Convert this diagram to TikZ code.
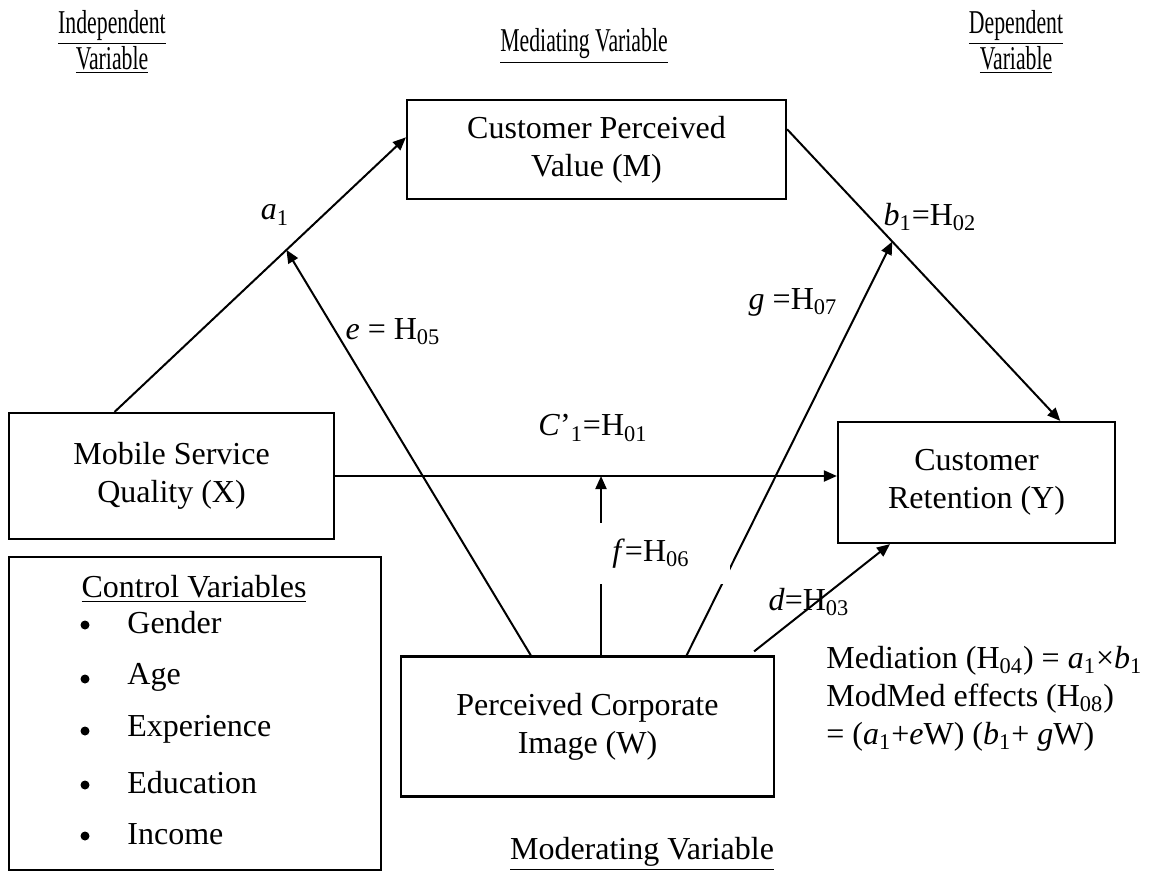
\documentclass[tikz,border=0pt]{standalone}
\usepackage{fontspec}
\usepackage{graphicx}
\setmainfont{Liberation Serif}
\usetikzlibrary{positioning, arrows.meta, calc}

\newcommand{\narrowtitle}[1]{\scalebox{0.68}[1.04]{\underline{#1}}}

\begin{document}
\begin{tikzpicture}[x=0.5pt, y=-0.5pt, >={Triangle[length=6.5pt,width=5.5pt]},
  font=\fontsize{16}{19}\selectfont,
  box/.style={draw, line width=1.1pt, align=center, inner sep=0pt},
  conn/.style={->, line width=1pt},
  lbl/.style={inner sep=1pt}]

\useasboundingbox (0,0) rectangle (1149,872);

% --- Column titles ---
\node[align=center] (tIV) at (112,42) {\narrowtitle{Independent}\\[-1pt]\narrowtitle{Variable}};
\node (tMV) at (584,46) {\narrowtitle{Mediating Variable}};
\node[align=center] (tDV) at (1016,42) {\narrowtitle{Dependent}\\[-1pt]\narrowtitle{Variable}};
\node (tWV) at (642,854) {\underline{Moderating Variable}};

% --- Boxes ---
\node[box, minimum width=189.5pt, minimum height=49.5pt] (M) at (596.5,149.5)
  {Customer Perceived\\Value (M)};
\node[box, minimum width=162.5pt, minimum height=63pt] (X) at (171.5,476)
  {Mobile Service\\Quality (X)};
\node[box, minimum width=138.5pt, minimum height=60.5pt] (Y) at (976.5,482.5)
  {Customer\\Retention (Y)};
\node[box, minimum width=186.5pt, minimum height=70pt] (W) at (587.5,726.5)
  {Perceived Corporate\\Image (W)};

% --- Control variables ---
\node[box, minimum width=186pt, minimum height=156.5pt] (ctrl) at (195,713.5) {};
\node (ctrlT) at (194,589) {\underline{Control Variables}};
\foreach \y/\ctl [count=\k] in {623/Gender, 677/Age, 729/Experience, 783/Education, 834/Income} {
  \node[circle, fill, inner sep=0pt, minimum size=4.5pt] (dot\k) at (85,\y+2) {};
  \node[anchor=west, inner sep=0pt] (ctl\k) at (127,\y) {\ctl};
}

% --- Anchor points on the box borders ---
\coordinate (xa) at ($(X.north west)!0.326!(X.north east)$);
\coordinate (ma) at ($(M.north west)!0.38!(M.south west)$);
\coordinate (mb) at ($(M.north east)!0.30!(M.south east)$);
\coordinate (yb) at ($(Y.north west)!0.80!(Y.north east)$);
\coordinate (we) at ($(W.north west)!0.349!(W.north east)$);
\coordinate (wf) at ($(W.north west)!0.536!(W.north east)$);
\coordinate (wg) at ($(W.north west)!0.764!(W.north east)$);
\coordinate (wd) at ($(W.north west)!0.944!(W.north east)$);
\coordinate (yd) at ($(Y.south west)!0.19!(Y.south east)$);

% --- Labels under the lines ---
\node[lbl] (la) at (275,215) {\textit{a}\textsubscript{1}};
\node[lbl] (le) at (393,332) {\textit{e} = H\textsubscript{05}};
\node[lbl] (lg) at (793,302) {\textit{g} =H\textsubscript{07}};
\node[lbl] (lb) at (930,217) {\textit{b}\textsubscript{1}=H\textsubscript{02}};
\node[lbl] (lc) at (593,428) {\textit{C}’\textsubscript{1}=H\textsubscript{01}};
\node[lbl] (ld) at (809,602) {\textit{d}=H\textsubscript{03}};

% --- Paths ---
\draw[conn] (xa) -- (ma);
\draw[conn] (mb) -- (yb);
\draw[conn] (X.east) -- (X.east -| Y.west);
\draw[conn] (we) -- ($(xa)!0.59!(ma)$);
\draw[conn] (wg) -- ($(mb)!0.385!(yb)$);
\draw[conn] (wf) -- (wf |- X.east);
\draw[conn] ([yshift=2pt]wd) -- (yd);

% f label sits on a white box that breaks the lines
\node[fill=white, anchor=north west, inner sep=0pt, text width=67.5pt,
  minimum height=30.5pt, align=left] (lf) at (595,523)
  {\hspace*{8.5pt}\textit{f}=H\textsubscript{06}};

% --- Effects note ---
\node[align=left, anchor=west, inner sep=0pt] (med) at (826,699)
  {Mediation (H\textsubscript{04}) = \textit{a}\textsubscript{1}×\textit{b}\textsubscript{1}\\
   ModMed effects (H\textsubscript{08})\\
   = (\textit{a}\textsubscript{1}+\textit{e}W) (\textit{b}\textsubscript{1}+ \textit{g}W)};

\end{tikzpicture}
\end{document}
